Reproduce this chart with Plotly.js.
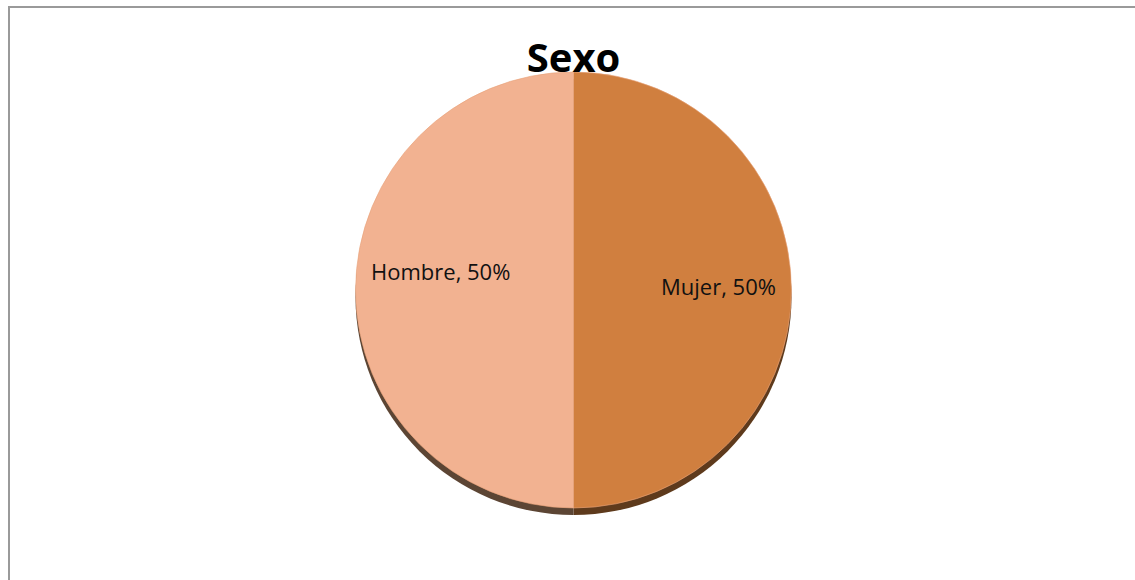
<!DOCTYPE html>
<html>
<head>
<meta charset="utf-8">
<script src="https://cdn.plot.ly/plotly-3.0.1.min.js"></script>
<style>
  html, body { margin: 0; padding: 0; background: #fff; overflow: hidden; }
  #frame { position: absolute; left: 8px; top: 6px; width: 1200px; height: 640px;
           border-left: 2px solid #9a9a9a; border-top: 2px solid #9a9a9a; }
  #chart { position: absolute; left: 0; top: 0; width: 1135px; height: 580px; }
</style>
</head>
<body>
<div id="frame"></div>
<div id="chart"></div>
<script>
// Distribución por sexo
const categories = ['Mujer', 'Hombre'];
const shares = [50, 50];
const sliceColors = ['#D07F3F', '#F2B291'];
const rimColors = ['#5E3A1C', '#5C4534'];

const W = 1135, H = 580;
const cx = 573.5, cy = 290, r = 218;
const rimDrop = 7;

function domainFor(dy) {
  return {
    x: [(cx - r) / W, (cx + r) / W],
    y: [(H - cy - dy - r) / H, (H - cy - dy + r) / H]
  };
}

const total = shares.reduce((a, b) => a + b, 0);
const pct = shares.map(v => Math.round(v / total * 100) + '%');

// rim drawn behind the pie, slightly lower, to give the raised edge
const rim = {
  type: 'pie', values: shares, labels: categories, sort: false,
  direction: 'clockwise', rotation: 0,
  marker: { colors: rimColors, line: { width: 0 } },
  textinfo: 'none', hoverinfo: 'skip', showlegend: false,
  domain: domainFor(rimDrop)
};

const pie = {
  type: 'pie', values: shares, labels: categories, sort: false,
  direction: 'clockwise', rotation: 0,
  marker: { colors: sliceColors, line: { color: '#E8A37A', width: 0.6 } },
  textinfo: 'none', showlegend: false,
  domain: domainFor(0)
};

// data labels placed inside each slice
const labelPos = [[718, 286], [440, 271]];
const annotations = categories.map((c, i) => ({
  text: c + ', ' + pct[i],
  xref: 'paper', yref: 'paper',
  x: labelPos[i][0] / W, y: 1 - labelPos[i][1] / H,
  xanchor: 'center', yanchor: 'middle', showarrow: false,
  font: { family: 'Open Sans, Liberation Sans, sans-serif', size: 22, color: '#111' }
}));

const layout = {
  width: W, height: H,
  margin: { l: 0, r: 0, t: 0, b: 0 },
  paper_bgcolor: 'rgba(0,0,0,0)', plot_bgcolor: 'rgba(0,0,0,0)',
  title: {
    text: '<b>Sexo</b>',
    x: cx / W, xanchor: 'center',
    y: 1 - 58 / H, yanchor: 'middle',
    font: { family: 'Open Sans, Liberation Sans, sans-serif', size: 40, color: '#000' }
  },
  annotations: annotations
};

Plotly.newPlot('chart', [rim, pie], layout, { displayModeBar: false, staticPlot: true });
</script>
</body>
</html>
